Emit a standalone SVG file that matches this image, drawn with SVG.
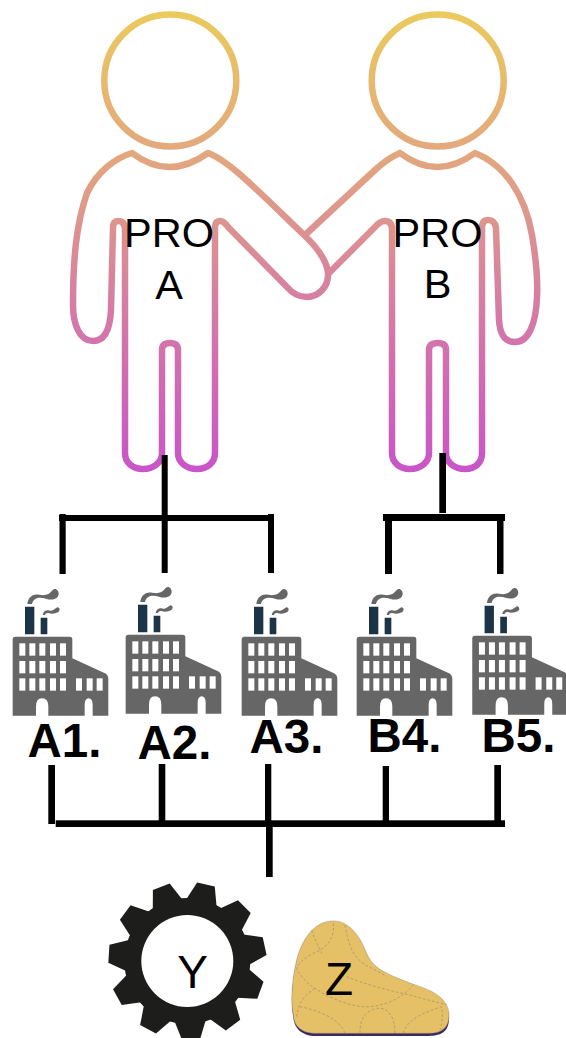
<svg xmlns="http://www.w3.org/2000/svg" xmlns:xlink="http://www.w3.org/1999/xlink" width="566" height="1038" viewBox="0 0 566 1038">
<style>
.fig{fill:none;stroke:url(#body);stroke-width:6.500;stroke-linejoin:round;stroke-linecap:round}
.lbl{font-family:"Liberation Sans",Arial,sans-serif;fill:#000}
.name{font-size:41.500px;text-anchor:middle}
.co{font-size:47.500px;font-weight:bold}
.res{font-size:46px;text-anchor:middle}
.wire{fill:#000;stroke:none}
.seam{fill:none;stroke:#9c8a68;stroke-width:2;stroke-dasharray:8 6}
</style>
<defs>
<linearGradient id="body" gradientUnits="userSpaceOnUse" x1="0" y1="10" x2="0" y2="472">
<stop offset="0" stop-color="#EBCB5C"/>
<stop offset="0.3" stop-color="#E3A97C"/>
<stop offset="0.62" stop-color="#D67FA2"/>
<stop offset="1" stop-color="#C954C8"/>
</linearGradient>
<g id="factory" transform="translate(0,580) scale(0.3333)">
<path fill="#666" d="M38 178Q38 170 46 170H209Q217 170 217 178V235L315 280Q325 285 325 297V407H278V375Q278 355 266 355Q254 355 254 375V407H145V380Q145 355 126 355Q108 355 108 380V407H38Z"/>
<path fill="#1C3448" d="M75 80H103V163H75ZM122 113H142V163H122Z"/>
<path fill="#666" d="M82 72C84 50 100 40 118 44C135 48 148 44 158 30C165 22 177 30 176 42C174 58 155 62 138 56C120 50 100 52 96 72ZM128 105C130 92 140 88 150 92C160 94 165 85 172 82C180 82 182 92 174 97C165 102 152 102 145 99C140 98 136 100 135 105Z"/>
<g fill="#fff">
<rect x="58" y="190" width="18" height="37"/><rect x="88" y="190" width="18" height="37"/><rect x="118" y="190" width="18" height="37"/><rect x="150" y="190" width="18" height="37"/><rect x="180" y="190" width="18" height="37"/>
<rect x="58" y="243" width="18" height="37"/><rect x="88" y="243" width="18" height="37"/><rect x="118" y="243" width="18" height="37"/><rect x="150" y="243" width="18" height="37"/><rect x="180" y="243" width="18" height="37"/>
<rect x="58" y="295" width="18" height="37"/><rect x="88" y="295" width="18" height="37"/><rect x="118" y="295" width="18" height="37"/><rect x="150" y="295" width="18" height="37"/><rect x="180" y="295" width="18" height="37"/>
<rect x="228" y="295" width="18" height="37"/><rect x="260" y="295" width="18" height="37"/><rect x="290" y="295" width="18" height="37"/>
</g>
</g>
<polygon id="tooth" points="-15.500,-60 -9,-78.500 9,-79 15.500,-60"/>
</defs>

<g id="pro-a">
<circle class="fig" cx="170.300" cy="80.500" r="66"/>
<path class="fig" d="M132 153Q169 181 208 153C228 160 255 188 303 234C318 248 327 262 328 273C329 288 317 297 307 297C298 297 292 293 287 287L229 228Q224 221 220 221Q215 221 215 228V453C215 463 207 469 197 469C187 469 178 463 178 453V350Q178 343 170 343Q162 343 162 350V453C162 463 153 469 143 469C133 469 125 463 125 453V230Q125 221 118 221Q113 221 113 228L111 310C110 330 105 341 93 341C80 341 73 325 73 305C73 260 76 225 87 193C97 172 115 158 132 153Z"/>
<text class="lbl name" x="169" y="247">PRO</text>
<text class="lbl name" x="169" y="299">A</text>
</g>
<g id="pro-b">
<circle class="fig" cx="437.700" cy="80.500" r="66"/>
<path class="fig" d="M400 153Q437 181 475 153C505 165 525 195 532 235C537 265 538 280 537 297C536 325 528 342 515 342C505 342 500 335 499 320L496 228Q495 220 488 220Q482 220 482 228V453C482 463 475 469 465 469C455 469 446 463 446 453V350Q446 343 438 343Q429 343 429 350V453C429 463 420 469 410 469C400 469 392 463 392 453V230Q392 221 385 221Q380 221 375 227L329 273M305 235L375 170Q388 158 400 153"/>
<text class="lbl name" x="437.500" y="247">PRO</text>
<text class="lbl name" x="437.500" y="298">B</text>
</g>

<g id="connectors" class="wire">
<rect x="161.700" y="455" width="6" height="118"/>
<rect x="59" y="515" width="215" height="6"/>
<rect x="59.500" y="514" width="6.200" height="60"/>
<rect x="268" y="514" width="6" height="59"/>
<rect x="439.300" y="453" width="6.700" height="60"/>
<rect x="383" y="514" width="122" height="7"/>
<rect x="385" y="514" width="7" height="60"/>
<rect x="497" y="514" width="6.500" height="60"/>
<rect x="48.300" y="765" width="6.700" height="59"/>
<rect x="158.700" y="764" width="6.600" height="60"/>
<rect x="265" y="764" width="6.300" height="60"/>
<rect x="382.700" y="766" width="6.300" height="58"/>
<rect x="494.300" y="765" width="6.700" height="59"/>
<rect x="55.700" y="820.300" width="449.300" height="6.700"/>
<rect x="266" y="825" width="6.700" height="52"/>
</g>

<g id="a1"><use xlink:href="#factory" href="#factory"/><text class="lbl co" x="27.500" y="757">A1.</text></g>
<g id="a2"><use xlink:href="#factory" href="#factory" x="113" y="-2"/><text class="lbl co" x="137.500" y="759">A2.</text></g>
<g id="a3"><use xlink:href="#factory" href="#factory" x="229" y="0"/><text class="lbl co" x="249.500" y="753">A3.</text></g>
<g id="b4"><use xlink:href="#factory" href="#factory" x="344" y="0"/><text class="lbl co" x="367.500" y="752">B4.</text></g>
<g id="b5"><use xlink:href="#factory" href="#factory" x="459.600" y="-1"/><text class="lbl co" x="481.500" y="752">B5.</text></g>

<g id="y">
<g transform="translate(187.300,961)" fill="#1D1D1B">
<circle r="63"/>
<use xlink:href="#tooth" href="#tooth" transform="rotate(13.7)"/>
<use xlink:href="#tooth" href="#tooth" transform="rotate(46.4)"/>
<use xlink:href="#tooth" href="#tooth" transform="rotate(79.1)"/>
<use xlink:href="#tooth" href="#tooth" transform="rotate(111.8)"/>
<use xlink:href="#tooth" href="#tooth" transform="rotate(144.5)"/>
<use xlink:href="#tooth" href="#tooth" transform="rotate(177.2)"/>
<use xlink:href="#tooth" href="#tooth" transform="rotate(209.9)"/>
<use xlink:href="#tooth" href="#tooth" transform="rotate(242.6)"/>
<use xlink:href="#tooth" href="#tooth" transform="rotate(275.3)"/>
<use xlink:href="#tooth" href="#tooth" transform="rotate(308)"/>
<use xlink:href="#tooth" href="#tooth" transform="rotate(340.7)"/>
<circle r="46" fill="#fff"/>
</g>
<text class="lbl res" x="192.500" y="988">Y</text>
</g>

<g id="z">
<g transform="translate(100,870) scale(0.3333)">
<path fill="#3A2A60" d="M700 158C740 158 775 190 800 255C820 300 850 315 960 355C1020 375 1047 405 1047 445C1047 480 1030 498 985 498H650C600 498 582 470 580 440C572 400 575 340 590 275C610 200 650 158 700 158Z"/>
<path fill="#E6C067" stroke="#9a8a78" stroke-width="1.500" d="M700 153C740 153 775 185 800 250C820 295 850 310 960 350C1020 370 1047 400 1047 435C1047 470 1030 490 985 490H650C600 490 582 465 580 435C572 395 575 335 590 270C610 195 650 153 700 153Z"/>
<path class="seam" d="M700 160C705 205 680 235 640 250C610 265 590 285 590 300C610 325 625 345 645 355C690 385 760 415 810 410C870 405 915 375 940 345M635 180C645 215 660 235 665 250M735 165C745 220 755 255 790 280C810 295 830 300 860 320M645 355C615 375 595 395 590 440M600 410C650 420 720 445 735 490M740 320C800 345 880 365 930 375C980 390 1010 395 1040 405M780 490C780 445 795 425 830 415C870 410 885 450 885 490M910 490C920 450 965 430 1025 410C1030 440 1025 470 1020 480"/>
</g>
<text class="lbl res" x="339" y="995">Z</text>
</g>
</svg>
